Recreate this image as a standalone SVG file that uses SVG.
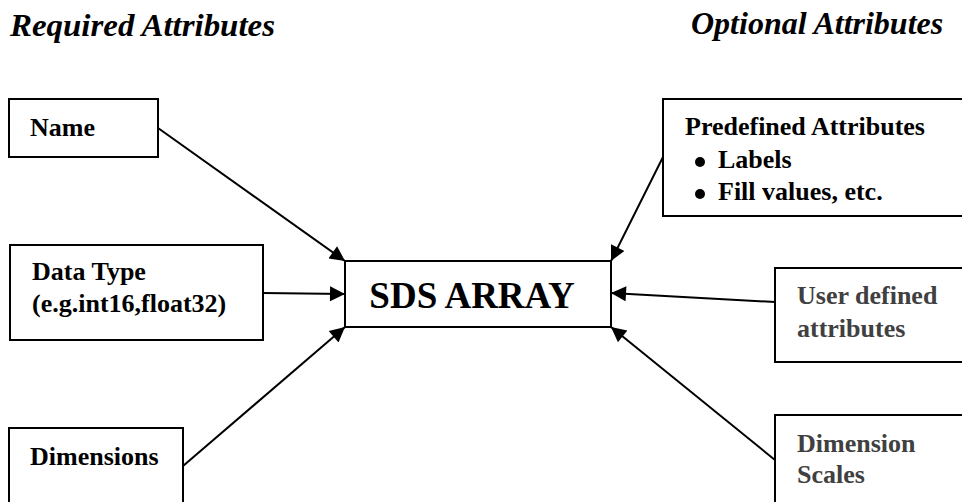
<svg xmlns="http://www.w3.org/2000/svg" width="962" height="502" viewBox="0 0 962 502">
<style>
text{font-family:"Liberation Serif","Times New Roman",serif;font-weight:bold;fill:#000}
.title{font-style:italic;font-size:32px}
.lbl{font-size:26px}
.gray{fill:#404040}
.box{fill:#fff;stroke:#000;stroke-width:2}
.conn{stroke:#000;stroke-width:2;fill:none;marker-end:url(#ah)}
</style>
<defs>
<marker id="ah" viewBox="0 0 10 10" refX="10" refY="5" markerWidth="8.5" markerHeight="7.5" markerUnits="strokeWidth" orient="auto">
<path d="M0,0 L10,5 L0,10 z" fill="#000"/>
</marker>
</defs>
<rect width="962" height="502" fill="#fff"/>
<text class="title" x="10" y="36" textLength="265" lengthAdjust="spacingAndGlyphs">Required Attributes</text>
<text class="title" x="691" y="34">Optional Attributes</text>
<g id="name"><rect class="box" x="9" y="99" width="149" height="58"/><text class="lbl" x="30" y="136">Name</text></g>
<g id="datatype"><rect class="box" x="10" y="245" width="253" height="95"/><text class="lbl" x="32" y="280">Data Type</text><text class="lbl" x="32" y="312">(e.g.int16,float32)</text></g>
<g id="dimensions"><rect class="box" x="9" y="428" width="174" height="80"/><text class="lbl" x="30" y="465">Dimensions</text></g>
<g id="sds"><rect class="box" x="345" y="261" width="266" height="66"/><text x="472" y="308" text-anchor="middle" font-size="37">SDS ARRAY</text></g>
<g id="predefined"><rect class="box" x="663" y="99" width="310" height="117"/><text class="lbl" x="685" y="135">Predefined Attributes</text><circle cx="700" cy="162" r="5"/><text class="lbl" x="718" y="168">Labels</text><circle cx="700" cy="194" r="5"/><text class="lbl" x="718" y="200">Fill values, etc.</text></g>
<g id="userdef"><rect class="box" x="775" y="268" width="200" height="94"/><text class="lbl gray" x="797" y="304">User defined</text><text class="lbl gray" x="797" y="337">attributes</text></g>
<g id="scales"><rect class="box" x="775" y="415" width="200" height="100"/><text class="lbl gray" x="797" y="452">Dimension</text><text class="lbl gray" x="797" y="483">Scales</text></g>
<g id="connectors">
<line class="conn" x1="158" y1="128" x2="345" y2="261"/>
<line class="conn" x1="263" y1="293" x2="345" y2="294"/>
<line class="conn" x1="183" y1="466" x2="345" y2="327"/>
<line class="conn" x1="663" y1="157" x2="611" y2="261"/>
<line class="conn" x1="775" y1="302" x2="611" y2="293"/>
<line class="conn" x1="775" y1="460" x2="611" y2="327"/>
</g>
</svg>
